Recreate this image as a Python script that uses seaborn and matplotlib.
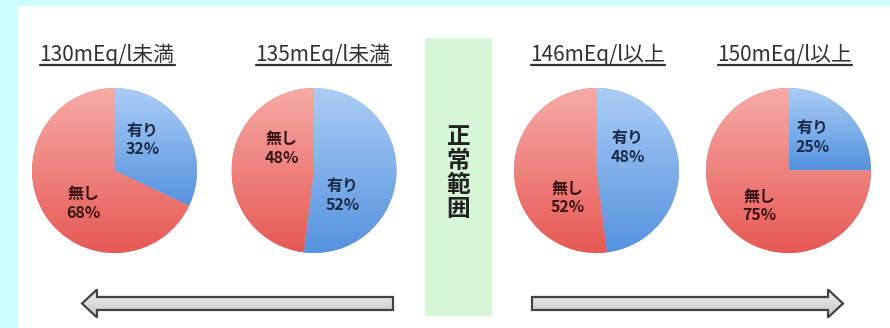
import numpy as np
import matplotlib
matplotlib.use("Agg")
import matplotlib.pyplot as plt
import seaborn as sns
from matplotlib.patches import Rectangle, FancyArrow
from matplotlib.colors import LinearSegmentedColormap
from matplotlib.lines import Line2D

sns.set_theme(style="white")
plt.rcParams['font.family'] = ['Noto Sans CJK JP', 'DejaVu Sans']

# ---- data ----
titles = ["130mEq/l未満", "135mEq/l未満", "146mEq/l以上", "150mEq/l以上"]
categories = ["有り", "無し"]
ari = [32, 52, 48, 25]
nashi = [68, 48, 52, 75]
middle_label = "正常範囲"

# ---- layout (pixels) ----
W, H = 890, 328
pie_cx = [114.5, 314, 596.5, 788.5]
pie_cy = 170.5
pie_r = 82.5
title_x = [107, 323, 598, 785]
title_y = 55
label_off = [[(0.34, 0.37), (-0.38, -0.40)],
             [(0.35, -0.30), (-0.39, 0.27)],
             [(0.38, 0.28), (-0.35, -0.33)],
             [(0.29, 0.40), (-0.35, -0.43)]]

blue_cmap = LinearSegmentedColormap.from_list("b", ["#5593de", "#abcdf6"])
red_cmap = LinearSegmentedColormap.from_list("r", ["#e65a55", "#f7aaa6"])
grey_cmap = LinearSegmentedColormap.from_list("g", ["#f2f2f2", "#c4c4c4"])
palette = sns.color_palette(["#7eaeea", "#ef7f7b"])
text_colors = ["#1b2a46", "#3a1515"]

fig = plt.figure(figsize=(W / 100, H / 100), dpi=100)
fig.patch.set_facecolor('#ccffff')

bg = fig.add_axes([0, 0, 1, 1])
bg.set_xlim(0, W)
bg.set_ylim(H, 0)
bg.axis('off')
bg.add_patch(Rectangle((18, 6), W - 18, H - 6, facecolor='white', edgecolor='none'))
bg.add_patch(Rectangle((425, 38), 67, 278, facecolor='#d5f7d5', edgecolor='none'))
bg.text(458.5, 173, "\n".join(middle_label), ha='center', va='center', fontsize=17,
        fontweight='bold', linespacing=1.0, color='#222222')

grad = np.linspace(0, 1, 64).reshape(-1, 1)
# arrows
for (x0, dx) in [(393, -311), (532, 311)]:
    arr = FancyArrow(x0, 303.5, dx, 0, width=13, head_width=28, head_length=15,
                     length_includes_head=True, facecolor='none', edgecolor='#444444',
                     linewidth=1.6, zorder=3)
    bg.add_patch(arr)
    im = bg.imshow(grad, cmap=grey_cmap, extent=(min(x0, x0 + dx), max(x0, x0 + dx), 318, 289),
                   origin='upper', aspect='auto', zorder=2)
    im.set_clip_path(arr)
bg.set_xlim(0, W)
bg.set_ylim(H, 0)

# pies
for i in range(4):
    cx = pie_cx[i]
    rect = [(cx - pie_r) / W, (H - pie_cy - pie_r) / H, 2 * pie_r / W, 2 * pie_r / H]
    ax = fig.add_axes(rect)
    vals = [ari[i], nashi[i]]
    wedges, _ = ax.pie(vals, startangle=90, counterclock=False, radius=1,
                       colors=palette, wedgeprops=dict(linewidth=0))
    for w, cmap in zip(wedges, [blue_cmap, red_cmap]):
        ext = w.get_path().get_extents()
        y0, y1 = max(ext.y0, -1), min(ext.y1, 1)
        im = ax.imshow(grad, cmap=cmap, extent=(-1, 1, y0, y1), origin='lower',
                       aspect='auto', zorder=2)
        im.set_clip_path(w)
    for j in range(2):
        ox, oy = label_off[i][j]
        ax.text(ox, oy, f"{categories[j]}\n{vals[j]}%", ha='center', va='center',
                fontsize=11.5, fontweight='bold', color=text_colors[j],
                linespacing=1.2, zorder=5)
    ax.set_aspect('auto')
    ax.set_xlim(-1, 1)
    ax.set_ylim(-1, 1)
    ax.axis('off')

# titles with underline
title_texts = []
for i in range(4):
    t = bg.text(title_x[i], title_y, titles[i], ha='center', va='center',
                fontsize=15, color='#333333')
    title_texts.append(t)
fig.canvas.draw()
renderer = fig.canvas.get_renderer()
for t in title_texts:
    bb = t.get_window_extent(renderer)
    yl = H - (bb.y0 + 1.5)
    bg.add_line(Line2D([bb.x0, bb.x1], [yl, yl], color='#333333', linewidth=1.6))

fig.savefig("out.png", dpi=100, facecolor=fig.get_facecolor())
